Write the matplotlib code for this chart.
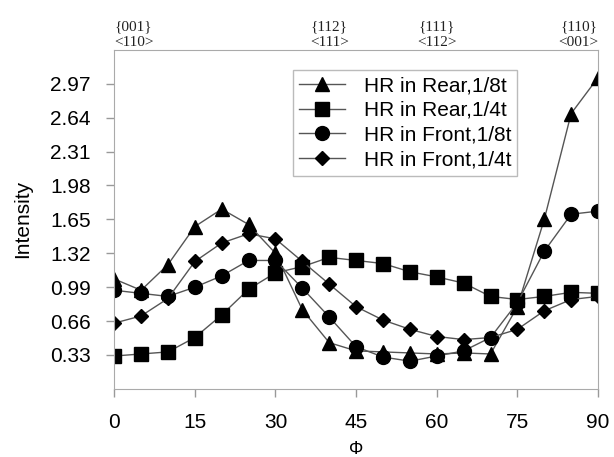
import matplotlib
matplotlib.use("Agg")
import matplotlib.pyplot as plt

plt.rcParams["font.family"] = ["Liberation Sans", "DejaVu Sans"]

phi = [0, 5, 10, 15, 20, 25, 30, 35, 40, 45, 50, 55, 60, 65, 70, 75, 80, 85, 90]

rear_18 = [1.07, 0.96, 1.21, 1.58, 1.75, 1.60, 1.32, 0.77, 0.45, 0.37, 0.36, 0.35, 0.34, 0.35, 0.34, 0.80, 1.65, 2.68, 3.03]
rear_14 = [0.32, 0.34, 0.36, 0.50, 0.72, 0.97, 1.13, 1.19, 1.28, 1.25, 1.22, 1.14, 1.09, 1.03, 0.90, 0.87, 0.90, 0.94, 0.93]
front_18 = [0.96, 0.93, 0.90, 0.99, 1.10, 1.25, 1.25, 0.98, 0.70, 0.41, 0.31, 0.27, 0.32, 0.37, 0.50, 0.84, 1.34, 1.70, 1.73]
front_14 = [0.64, 0.71, 0.88, 1.24, 1.42, 1.51, 1.46, 1.24, 1.02, 0.80, 0.67, 0.58, 0.51, 0.48, 0.50, 0.58, 0.76, 0.87, 0.90]

labels = ["HR in Rear,1/8t", "HR in Rear,1/4t", "HR in Front,1/8t", "HR in Front,1/4t"]
yticks = [0.33, 0.66, 0.99, 1.32, 1.65, 1.98, 2.31, 2.64, 2.97]
xticks = [0, 15, 30, 45, 60, 75, 90]

# texture orientations along the top
tex_pos = [0, 40, 60, 90]
tex_text = ["{001}\n<110>", "{112}\n<111>", "{111}\n<112>", "{110}\n<001>"]
tex_align = ["left", "center", "center", "right"]

fig = plt.figure(figsize=(6.14, 4.57), dpi=100)
ax = fig.add_axes([0.186, 0.149, 0.788, 0.742])

line_kw = dict(color="#555555", lw=1.0, mfc="black", mec="black")
ax.plot(phi, rear_18, marker="^", ms=10, label=labels[0], **line_kw)
ax.plot(phi, rear_14, marker="s", ms=9.5, label=labels[1], **line_kw)
ax.plot(phi, front_18, marker="o", ms=10, label=labels[2], **line_kw)
ax.plot(phi, front_14, marker="D", ms=7, label=labels[3], **line_kw)

ax.set_xlim(0, 90)
ax.set_ylim(0, 3.3)
ax.set_xticks(xticks)
ax.set_yticks(yticks)
ax.tick_params(labelsize=15, color="#999999", length=6, width=1, pad=11)
for s in ax.spines.values():
    s.set_color("#aaaaaa")

ax.set_xlabel("Φ", fontsize=13, labelpad=7)
ax.set_ylabel("Intensity", fontsize=15, labelpad=13)

for p, t, ha in zip(tex_pos, tex_text, tex_align):
    ax.text(p, 3.31, t, ha=ha, va="bottom", fontsize=11, family="Liberation Serif",
            linespacing=1.2, color="#222222")

leg = ax.legend(loc="upper left", bbox_to_anchor=(0.369, 0.941), borderaxespad=0,
                fontsize=15, frameon=True, fancybox=False, edgecolor="#aaaaaa",
                handlelength=2.2, handletextpad=0.9, borderpad=0.3, labelspacing=0.28)
leg.get_frame().set_linewidth(1.0)

fig.savefig("out.png", dpi=100)
